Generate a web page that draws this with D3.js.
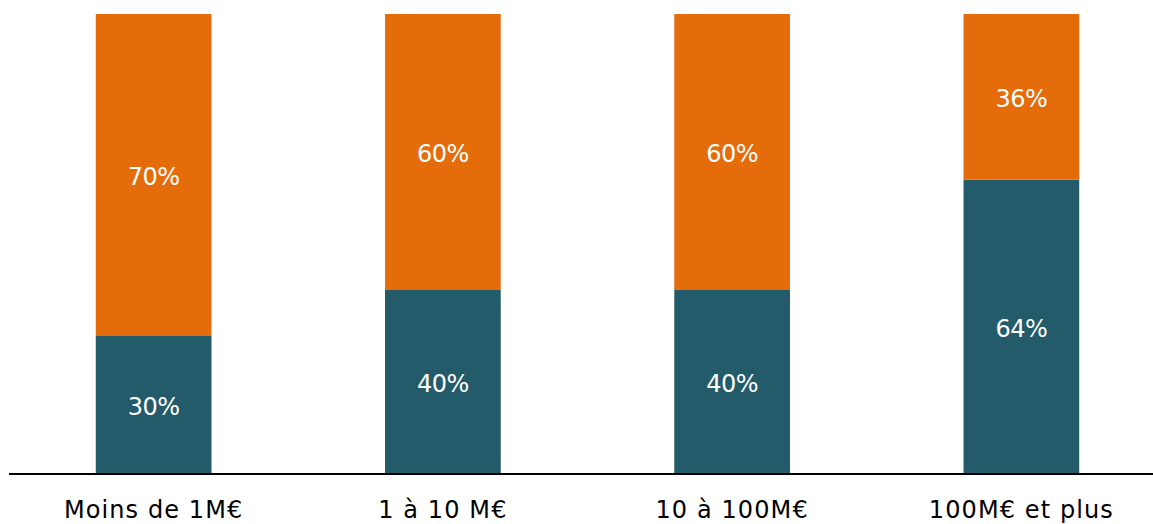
<!DOCTYPE html>
<html><head><meta charset="utf-8">
<script src="https://cdn.jsdelivr.net/npm/d3@7"></script>
<style>body{margin:0;background:#fff;}svg{display:block;}</style>
</head><body>
<svg id="c" width="1153" height="524"></svg>
<script>
const categories = ["Moins de 1M€", "1 à 10 M€", "10 à 100M€", "100M€ et plus"];
const bottomValues = [30, 40, 40, 64];
const topValues = [70, 60, 60, 36];
const seriesColors = ["#245B6A", "#E46C0A"];

const svg = d3.select("#c");
const x = d3.scaleBand().domain(categories).range([9, 1166]).paddingInner(0.6).paddingOuter(0.3);
const y = d3.scaleLinear().domain([0, 100]).range([474, 14]);

const data = categories.map((c, i) => ({c, a: bottomValues[i], b: topValues[i]}));
const stack = d3.stack().keys(["a", "b"])(data);

const font = "'DejaVu Sans', sans-serif";
stack.forEach((layer, li) => {
  const g = svg.append("g");
  g.selectAll("rect").data(layer).enter().append("rect")
    .attr("x", d => x(d.data.c))
    .attr("width", x.bandwidth())
    .attr("y", d => y(d[1]))
    .attr("height", d => y(d[0]) - y(d[1]))
    .attr("fill", seriesColors[li]);
  g.selectAll("text").data(layer).enter().append("text")
    .attr("x", d => x(d.data.c) + x.bandwidth() / 2)
    .attr("y", d => (y(d[0]) + y(d[1])) / 2)
    .attr("dy", "0.42em")
    .attr("text-anchor", "middle")
    .attr("fill", "#fff")
    .style("font-family", font)
    .style("font-size", "24px")
    .style("letter-spacing", "-0.5px")
    .text(d => (d[1] - d[0]) + "%");
});

const axis = d3.axisBottom(x).tickSize(0).tickPadding(0);
const ag = svg.append("g").attr("transform", "translate(0,474)").call(axis);
ag.select(".domain").remove();
ag.selectAll("text").attr("y", 44).attr("dy", 0)
  .style("font-family", font).style("font-size", "24px").style("letter-spacing", "1.1px")
  .attr("fill", "#000");
svg.append("line").attr("x1", 9).attr("x2", 1153).attr("y1", 474).attr("y2", 474).attr("stroke", "#000").attr("stroke-width", 2);
</script>
</body></html>
